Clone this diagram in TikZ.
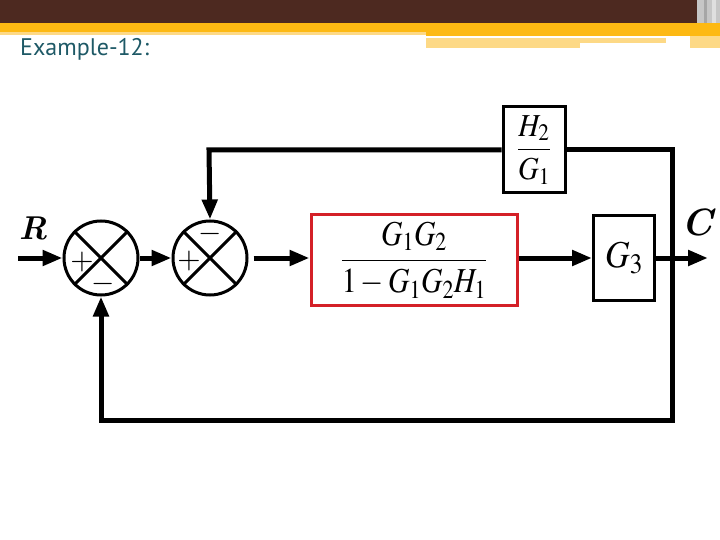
\documentclass[tikz,border=0pt]{standalone}
\usepackage{amsmath}
\usepackage{mathptmx}
\usepackage{fontspec}
\usepackage{tikz}
\usetikzlibrary{arrows.meta,positioning,calc}
\newfontfamily\titlefont{PT Sans}
\definecolor{barbrown}{RGB}{77,41,32}
\definecolor{barorange}{RGB}{253,185,19}
\definecolor{barlight}{RGB}{253,217,134}
\definecolor{titleteal}{RGB}{30,89,102}
\definecolor{boxred}{RGB}{212,32,39}

\begin{document}
\begin{tikzpicture}[
  x=1pt, y=-1pt,
  sumnode/.style={draw, circle, line width=3pt, minimum size=74pt, inner sep=0pt},
  block/.style={draw, line width=3pt, minimum width=62pt, minimum height=86pt, inner sep=0pt, align=center},
  blockred/.style={block, draw=boxred, minimum width=206pt, minimum height=90pt},
  sig/.style={line width=5pt, line join=miter, -{Triangle[length=20pt,width=15pt]}},
  sgn/.style={font=\fontsize{30}{30}\selectfont, inner sep=0pt}
]
\useasboundingbox (0,0) rectangle (720,540);
% slide header
\fill[barbrown] (0,0) rectangle (697,23);
\fill[gray!45] (697,0) rectangle (720,23);
\fill[gray!70] (704,0) rectangle (707,23);
\fill[gray!25] (712,0) rectangle (716,23);
\fill[barorange] (0,23) rectangle (720,32);
\fill[barorange] (426,32) rectangle (720,36);
\fill[barlight] (0,32) rectangle (426,35);
\fill[barlight] (426,38) rectangle (666,43);
\fill[barlight] (426,43) rectangle (580,48);
\fill[barlight] (690,36) rectangle (720,48);
\node[anchor=base west, text=titleteal, inner sep=0pt] (title) at (20,56)
  {\titlefont\fontsize{24}{24}\selectfont Example-12:};

% blocks
\node[sumnode] (s1) at (101,258) {};
\node[sumnode] (s2) at (210,258) {};
\foreach \s in {s1,s2}{
  \draw[line width=3pt] (\s.north west) -- (\s.south east);
  \draw[line width=3pt] (\s.north east) -- (\s.south west);
}
\node[sgn] (p1) at (82,262) {$+$};
\node[sgn] (m1) at (103,284) {$-$};
\node[sgn] (p2) at (189,261) {$+$};
\node[sgn] (m2) at (210,234) {$-$};

\node[blockred] (g12) at (414,260)
  {\scalebox{0.85}[1]{\fontsize{35}{40}\selectfont$\dfrac{G_1G_2}{1-G_1G_2H_1}$}};
\node[block, minimum width=61pt, minimum height=85pt] (g3) at (624,258)
  {\scalebox{0.9}[1]{\fontsize{38}{40}\selectfont$G_3$}};
\node[block] (h2g1) at (534,150)
  {\scalebox{0.9}[1]{\fontsize{32}{36}\selectfont$\dfrac{H_2}{G_1}$}};

\node[font=\fontsize{33}{33}\selectfont\bfseries\itshape, inner sep=0pt] (rlab) at (33,228) {R};
\node[font=\fontsize{38}{38}\selectfont\bfseries\itshape, inner sep=0pt] (clab) at (697,222) {C};

% coordinates
\coordinate (in) at (18,258);
\coordinate (out) at (708,258);
\coordinate (tr) at (672,150);
\coordinate (brc) at (672,420);
\coordinate (tl) at (209,150);
\coordinate (bl) at (101,420);

% forward path
\draw[sig] (in) -- (s1.west);
\draw[sig] (s1.east) -- (s2.west);
\draw[sig] ($(s2.east)+(5,0)$) -- (s2.east -| g12.west);
\draw[sig] (s2.east -| g12.east) -- (g3.west);
\draw[sig] (g3.east) -- (out);

% feedback paths
\draw[sig] (h2g1.east) -- (tr) -- (brc) -- (bl) -- (s1.south);
\draw[sig] (h2g1.west) -- (tl) -- (s2.north);
\end{tikzpicture}
\end{document}
